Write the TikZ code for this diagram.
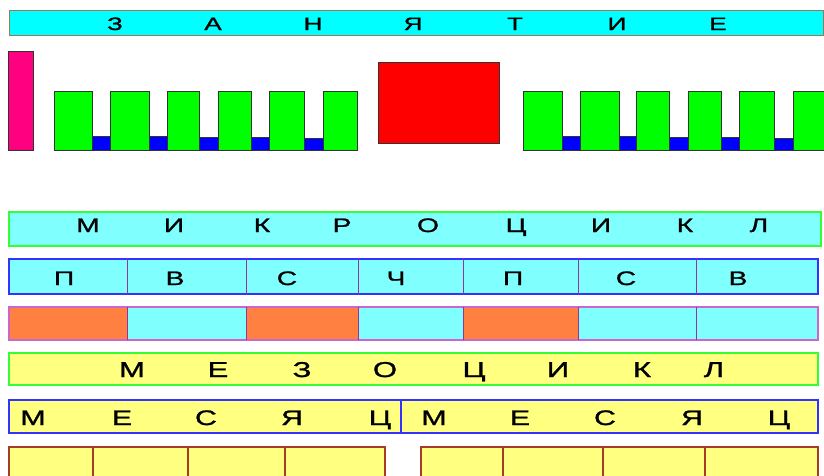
\documentclass[tikz,border=0pt]{standalone}
\usepackage{fontspec}
\setmainfont{Liberation Sans}[FakeStretch=1.45,FakeBold=1.2]
\definecolor{topfill}{HTML}{00FFFF}
\definecolor{topborder}{HTML}{A07850}
\definecolor{pinkbar}{HTML}{FF0080}
\definecolor{gblock}{HTML}{00FF00}
\definecolor{bblock}{HTML}{0000FF}
\definecolor{redsq}{HTML}{FF0000}
\definecolor{lcyan}{HTML}{80FFFF}
\definecolor{lgreen}{HTML}{33FF33}
\definecolor{rowblue}{HTML}{3333FF}
\definecolor{divpurple}{HTML}{993399}
\definecolor{orng}{HTML}{FF8040}
\definecolor{lpink}{HTML}{CC66CC}
\definecolor{lyellow}{HTML}{FFFF80}
\definecolor{brownred}{HTML}{A83A28}
\definecolor{blockline}{HTML}{333333}
\tikzset{
  blk/.style={draw=blockline, line width=1pt},
  ltr/.style={inner sep=0pt, anchor=base, text=black},
}
\begin{document}
\begin{tikzpicture}[x=1pt,y=-1pt]
\useasboundingbox (0,0) rectangle (824,475);
\fill[white] (0,0) rectangle (824,475);
% top bar
\draw[fill=topfill, draw=topborder, line width=1pt] (9,10) rectangle (823,35);
\foreach \l/\x [count=\i] in {З/115,А/213,Н/313,Я/413,Т/515,И/617,Е/718}
  \node[ltr, font=\fontsize{18}{18}\selectfont] (t\i) at (\x,30) {\l};
% pink bar
\draw[blk, fill=pinkbar] (8,51) rectangle (33,150);
% left blocks
\foreach \a/\b/\t in {92/110/136,149/167/136,199/218/137,251/269/137,304/323/138}
  \draw[blk, fill=bblock] (\a,\t) rectangle (\b,150);
\foreach \a/\b in {54/92,110/149,167/199,218/251,269/304,323/357}
  \draw[blk, fill=gblock] (\a,91) rectangle (\b,150);
% red square
\draw[blk, fill=redsq] (378,62) rectangle (499,143);
% right blocks
\foreach \a/\b/\t in {562/580/136,619/636/136,669/688/137,721/739/137,774/793/138}
  \draw[blk, fill=bblock] (\a,\t) rectangle (\b,150);
\foreach \a/\b in {523/562,580/619,636/669,688/721,739/774,793/830}
  \draw[blk, fill=gblock] (\a,91) rectangle (\b,150);
% microcycle
\draw[fill=lcyan, draw=lgreen, line width=1.2pt] (9,212) rectangle (821,246);
\foreach \l/\x [count=\i] in {М/88,И/174,К/262,Р/342,О/428,Ц/516,И/601,К/685,Л/759}
  \node[ltr, font=\fontsize{19.5}{19.5}\selectfont] (m\i) at (\x,232) {\l};
% days row
\draw[fill=lcyan, draw=rowblue, line width=1.2pt] (9,259) rectangle (818,294);
\foreach \x in {127,246,358,463,578,696}
  \draw[divpurple, line width=1pt] (\x,259) -- (\x,294);
\foreach \l/\x [count=\i] in {П/64,В/175,С/287,Ч/396,П/513,С/626,В/738}
  \node[ltr, font=\fontsize{19.5}{19.5}\selectfont] (d\i) at (\x,285) {\l};
% orange row
\fill[lcyan] (9,307) rectangle (818,340);
\foreach \a/\b in {9/127,246/358,463/578}
  \fill[orng] (\a,307) rectangle (\b,340);
\draw[draw=lpink, line width=1.2pt] (9,307) rectangle (818,340);
\foreach \x in {127,246,358,463,578,696}
  \draw[divpurple, line width=1pt] (\x,307) -- (\x,340);
% mesocycle
\draw[fill=lyellow, draw=lgreen, line width=1.2pt] (9,353) rectangle (818,385);
\foreach \l/\x [count=\i] in {М/132,Е/218,З/302,О/385,Ц/474,И/558,К/642,Л/714}
  \node[ltr, font=\fontsize{21.5}{21.5}\selectfont] (s\i) at (\x,377) {\l};
% month row
\draw[fill=lyellow, draw=rowblue, line width=1.2pt] (9,400) rectangle (818,433);
\draw[rowblue, line width=1.2pt] (401,400) -- (401,433);
\foreach \l/\x [count=\i] in {М/33,Е/122,С/206,Я/292,Ц/380,М/434,Е/520,С/605,Я/692,Ц/779}
  \node[ltr, font=\fontsize{21}{21}\selectfont] (w\i) at (\x,425) {\l};
% bottom row
\draw[fill=lyellow, draw=brownred, line width=1.2pt] (9,447) rectangle (385,485);
\foreach \x in {93,188,285}
  \draw[brownred, line width=1.2pt] (\x,447) -- (\x,485);
\draw[fill=lyellow, draw=brownred, line width=1.2pt] (421,447) rectangle (818,485);
\foreach \x in {503,603,705}
  \draw[brownred, line width=1.2pt] (\x,447) -- (\x,485);
\end{tikzpicture}
\end{document}
